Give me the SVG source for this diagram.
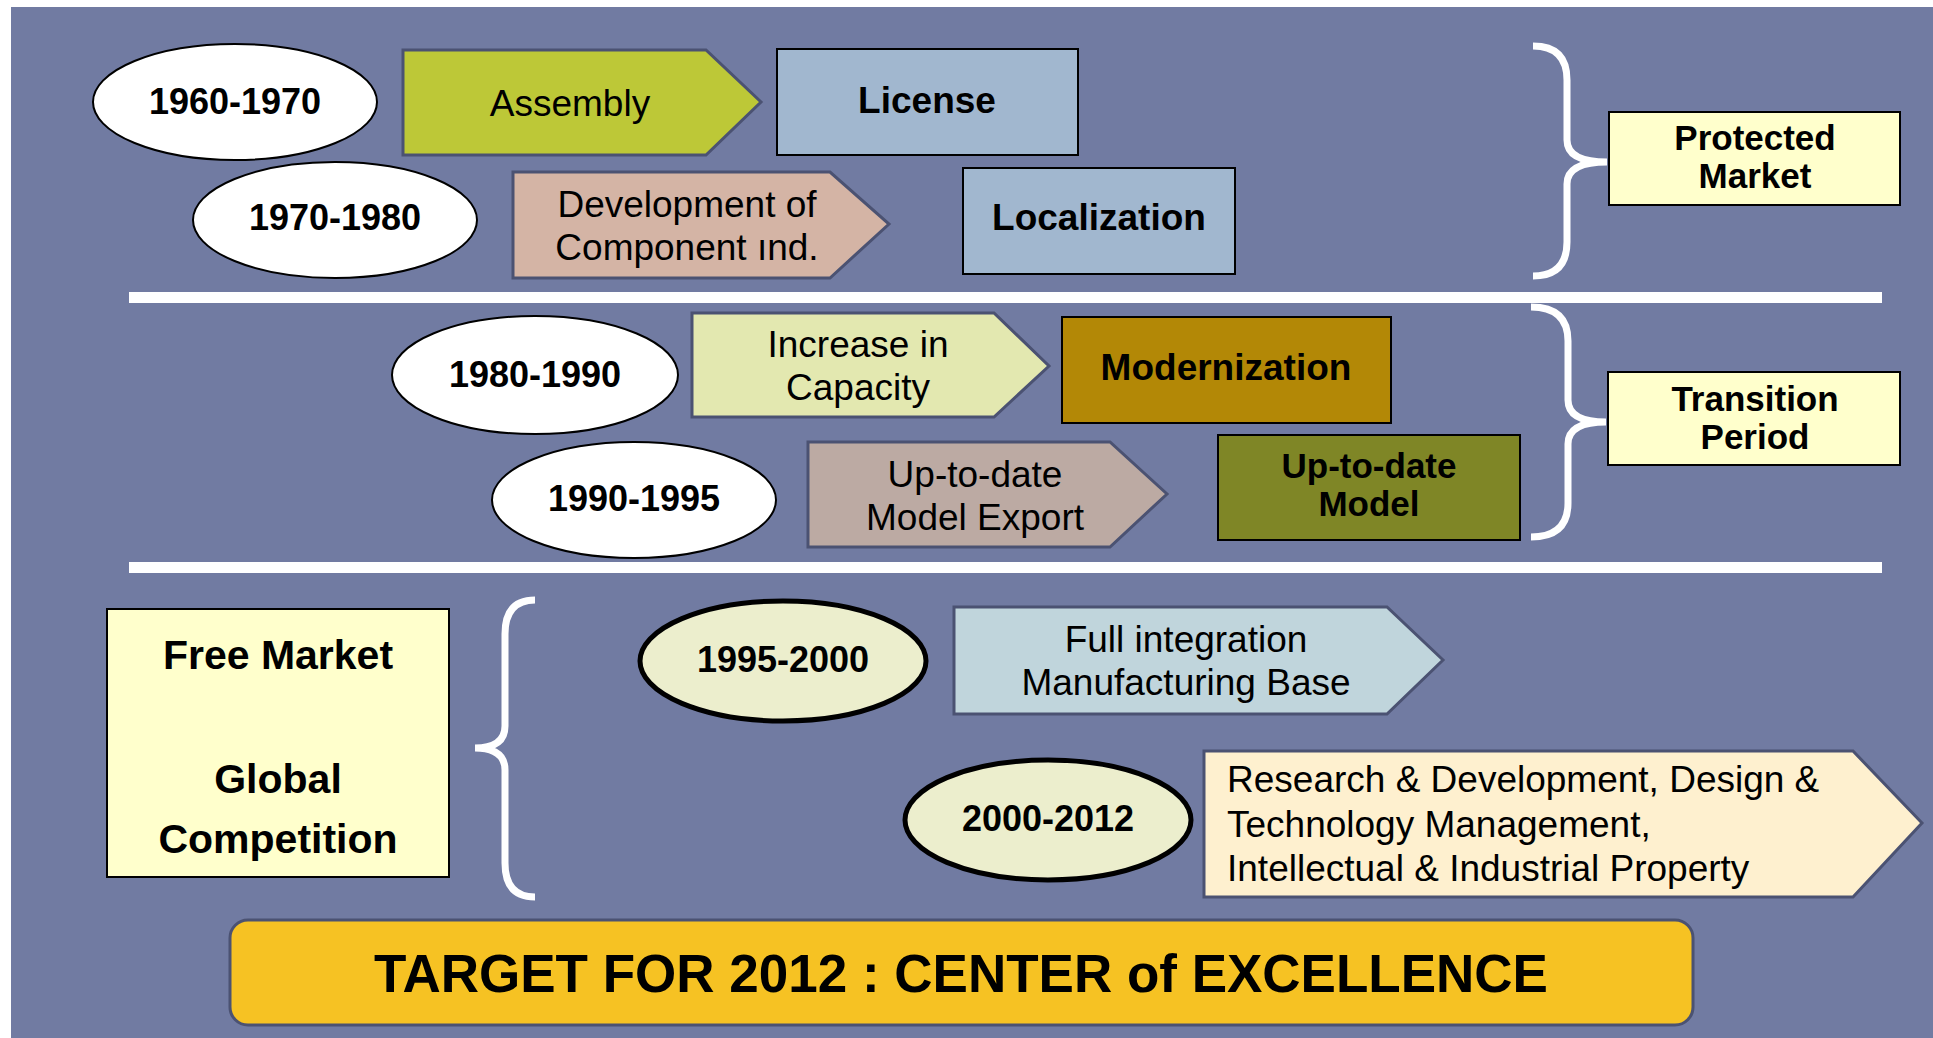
<svg xmlns="http://www.w3.org/2000/svg" width="1933" height="1038" viewBox="0 0 1933 1038">
<style>
text{font-family:"Liberation Sans",Arial,sans-serif;fill:#000}
.b{font-weight:bold}
.c{text-anchor:middle}
.arr{stroke:#4b5272;stroke-width:3;stroke-linejoin:miter}
.box{stroke:#000;stroke-width:2}
.ell{fill:#fff;stroke:#000;stroke-width:2}
.ell2{fill:#eceecd;stroke:#000;stroke-width:5}
.sep{fill:#fff}
.brace{fill:none;stroke:#fff;stroke-width:7}
</style>
<rect x="0" y="0" width="1933" height="1038" fill="#fff"/>
<rect x="11" y="7" width="1922" height="1031" fill="#717ba2"/>

<g id="separators">
<rect class="sep" x="129" y="292" width="1753" height="11"/>
<rect class="sep" x="129" y="562" width="1753" height="11"/>
</g>

<g id="connectors">
<path class="brace" d="M1533,46 Q1567,46 1567,80 L1567,140 Q1567,162 1607,162 Q1567,162 1567,184 L1567,242 Q1567,276 1533,276"/>
<path class="brace" d="M1531,307 Q1568,307 1568,341 L1568,400 Q1568,422 1606,422 Q1568,422 1568,444 L1568,503 Q1568,537 1531,537"/>
<path class="brace" d="M535,600 Q505,600 505,634 L505,726 Q505,748 475,748 Q505,748 505,770 L505,863 Q505,897 535,897"/>
</g>

<g id="n1960">
<ellipse class="ell" cx="235" cy="102" rx="142" ry="58"/>
<text class="b c" x="235" y="114" font-size="36">1960-1970</text>
</g>
<g id="nAssembly">
<polygon class="arr" fill="#bdc837" points="403,50 706,50 761,102 706,155 403,155"/>
<text class="c" x="570" y="116" font-size="37">Assembly</text>
</g>
<g id="nLicense">
<rect class="box" x="777" y="49" width="301" height="106" fill="#a1b7cf"/>
<text class="b c" x="927" y="113" font-size="37">License</text>
</g>
<g id="n1970">
<ellipse class="ell" cx="335" cy="220" rx="142" ry="58"/>
<text class="b c" x="335" y="230" font-size="36">1970-1980</text>
</g>
<g id="nDev">
<polygon class="arr" fill="#d4b4a5" points="513,172 830,172 889,224 830,278 513,278"/>
<text class="c" x="687" y="217" font-size="37">Development of</text>
<text class="c" x="687" y="260" font-size="37">Component ınd.</text>
</g>
<g id="nLocal">
<rect class="box" x="963" y="168" width="272" height="106" fill="#a1b7cf"/>
<text class="b c" x="1099" y="230" font-size="37">Localization</text>
</g>
<g id="nProtected">
<rect class="box" x="1609" y="112" width="291" height="93" fill="#ffffcc"/>
<text class="b c" x="1755" y="150" font-size="35">Protected</text>
<text class="b c" x="1755" y="188" font-size="35">Market</text>
</g>

<g id="n1980">
<ellipse class="ell" cx="535" cy="375" rx="143" ry="59"/>
<text class="b c" x="535" y="387" font-size="36">1980-1990</text>
</g>
<g id="nIncrease">
<polygon class="arr" fill="#e3e8b0" points="692,313 994,313 1049,366 994,417 692,417"/>
<text class="c" x="858" y="357" font-size="37">Increase in</text>
<text class="c" x="858" y="400" font-size="37">Capacity</text>
</g>
<g id="nModern">
<rect class="box" x="1062" y="317" width="329" height="106" fill="#b38806"/>
<text class="b c" x="1226" y="380" font-size="37">Modernization</text>
</g>
<g id="n1990">
<ellipse class="ell" cx="634" cy="500" rx="142" ry="58"/>
<text class="b c" x="634" y="511" font-size="36">1990-1995</text>
</g>
<g id="nExport">
<polygon class="arr" fill="#bcaaa3" points="808,442 1110,442 1167,494 1110,547 808,547"/>
<text class="c" x="975" y="487" font-size="37">Up-to-date</text>
<text class="c" x="975" y="530" font-size="37">Model Export</text>
</g>
<g id="nModel">
<rect class="box" x="1218" y="435" width="302" height="105" fill="#7f8626"/>
<text class="b c" x="1369" y="478" font-size="35">Up-to-date</text>
<text class="b c" x="1369" y="516" font-size="35">Model</text>
</g>
<g id="nTransition">
<rect class="box" x="1608" y="372" width="292" height="93" fill="#ffffcc"/>
<text class="b c" x="1755" y="411" font-size="35">Transition</text>
<text class="b c" x="1755" y="449" font-size="35">Period</text>
</g>

<g id="nFree">
<rect class="box" x="107" y="609" width="342" height="268" fill="#ffffcc"/>
<text class="b c" x="278" y="669" font-size="41">Free Market</text>
<text class="b c" x="278" y="793" font-size="41">Global</text>
<text class="b c" x="278" y="853" font-size="41">Competition</text>
</g>
<g id="n1995">
<ellipse class="ell2" cx="783" cy="661" rx="143" ry="60"/>
<text class="b c" x="783" y="672" font-size="36">1995-2000</text>
</g>
<g id="nFull">
<polygon class="arr" fill="#c0d5dc" points="954,607 1387,607 1443,660 1387,714 954,714"/>
<text class="c" x="1186" y="652" font-size="37">Full integration</text>
<text class="c" x="1186" y="695" font-size="37">Manufacturing Base</text>
</g>
<g id="n2000">
<ellipse class="ell2" cx="1048" cy="820" rx="143" ry="60"/>
<text class="b c" x="1048" y="831" font-size="36">2000-2012</text>
</g>
<g id="nRD">
<polygon class="arr" fill="#fef0cf" points="1204,751 1853,751 1922,823 1853,897 1204,897"/>
<text x="1227" y="792" font-size="37">Research &amp; Development, Design &amp;</text>
<text x="1227" y="837" font-size="37">Technology Management,</text>
<text x="1227" y="881" font-size="37">Intellectual &amp; Industrial Property</text>
</g>
<g id="nTarget">
<rect x="230" y="920" width="1463" height="105" rx="18" ry="18" fill="#f6c223" stroke="#4b5272" stroke-width="3"/>
<text class="b c" x="961" y="992" font-size="53">TARGET FOR 2012 : CENTER of EXCELLENCE</text>
</g>
</svg>
